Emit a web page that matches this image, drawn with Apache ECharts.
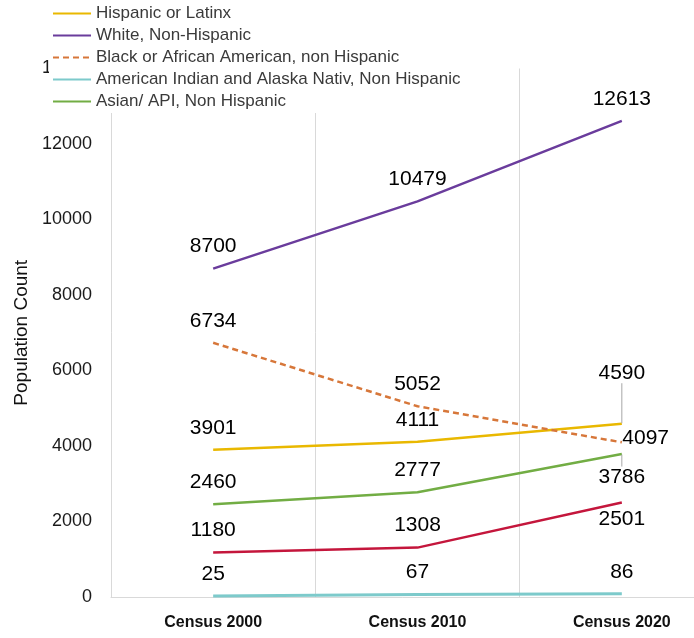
<!DOCTYPE html>
<html>
<head>
<meta charset="utf-8">
<script src="https://cdn.jsdelivr.net/npm/echarts@6/dist/echarts.min.js"></script>
<style>
  html, body { margin: 0; padding: 0; background: #fff; }
  #chart { width: 694px; height: 638px; }
</style>
</head>
<body>
<div id="chart"></div>
<script>
// Census categories
const censusYears = ['Census 2000', 'Census 2010', 'Census 2020'];

// Population counts per group
const hispanic   = [3901, 4111, 4590];
const white      = [8700, 10479, 12613];
const black      = [6734, 5052, 4097];
const amIndian   = [25, 67, 86];
const asian      = [2460, 2777, 3786];
const otherRace  = [1180, 1308, 2501];

const LABEL_FONT = 'Liberation Sans, Arial, sans-serif';

const baseLabel = {
  show: true,
  position: 'top',
  distance: 11,
  fontFamily: LABEL_FONT,
  fontSize: 21,
  color: '#000'
};

const guide = { show: true, lineStyle: { color: '#a6a6a6', width: 1 } };

function makeSeries(name, values, color, opts) {
  opts = opts || {};
  return Object.assign({
    name: name,
    type: 'line',
    data: values.map(function (v, i) {
      const item = { value: v };
      if (opts.lastLabel && i === values.length - 1) {
        item.label = opts.lastLabel;
        if (opts.lastGuide) item.labelLine = guide;
      }
      return item;
    }),
    // invisible point markers keep the value labels attached
    symbol: 'circle',
    symbolSize: 1,
    showSymbol: true,
    lineStyle: Object.assign({ color: color, width: 2.5 }, opts.lineStyle || {}),
    itemStyle: { color: 'rgba(0,0,0,0)', borderWidth: 0 },
    label: baseLabel
  }, opts.extra || {});
}

const series = [
  makeSeries('Hispanic or Latinx', hispanic, '#E9B800', {
    lastLabel: { position: 'top', distance: 11 },
    lastGuide: true,
    extra: {
      labelLayout: function (p) { return p.dataIndex === 2 ? { dy: -29 } : {}; }
    }
  }),
  makeSeries('White, Non-Hispanic', white, '#6A3C9C'),
  makeSeries('Black or African American, non Hispanic', black, '#D7773A', {
    lineStyle: { type: [6, 4] },
    lastLabel: { position: 'right', distance: 0, offset: [0, -4] }
  }),
  makeSeries('American Indian and Alaska Nativ, Non Hispanic', amIndian, '#7DCACB', {
    lineStyle: { width: 3 }
  }),
  makeSeries('Asian/ API, Non Hispanic', asian, '#72AD44', {
    lastLabel: { position: 'bottom', distance: 2 },
    lastGuide: true,
    extra: {
      labelLayout: function (p) { return p.dataIndex === 2 ? { dy: 10 } : {}; }
    }
  }),
  makeSeries('Other, Non Hispanic', otherRace, '#C4163C', {
    lastLabel: { position: 'bottom', distance: 6 }
  })
];

const chart = echarts.init(document.getElementById('chart'), null, { renderer: 'canvas' });
chart.setOption({
  animation: false,
  backgroundColor: '#fff',
  textStyle: { fontFamily: LABEL_FONT },
  grid: {
    left: 111, width: 613, top: 68.5, bottom: 41,
    containLabel: false,
    outerBoundsMode: 'none'
  },
  legend: {
    data: [
      'Hispanic or Latinx',
      'White, Non-Hispanic',
      'Black or African American, non Hispanic',
      'American Indian and Alaska Nativ, Non Hispanic',
      'Asian/ API, Non Hispanic'
    ],
    orient: 'vertical',
    left: 49,
    top: 2,
    padding: [3, 6, 3, 3],
    backgroundColor: '#fff',
    itemWidth: 38,
    itemHeight: 14,
    itemGap: 5,
    textStyle: { fontFamily: LABEL_FONT, fontSize: 17, color: '#3a3a3a' }
  },
  xAxis: {
    type: 'category',
    data: censusYears,
    boundaryGap: true,
    axisLine: { show: true, lineStyle: { color: '#d9d9d9', width: 1 } },
    axisTick: { show: false },
    splitLine: { show: true, lineStyle: { color: '#d9d9d9', width: 1 } },
    axisLabel: {
      margin: 18,
      fontFamily: LABEL_FONT,
      fontSize: 16,
      fontWeight: 'bold',
      color: '#111'
    }
  },
  yAxis: {
    type: 'value',
    min: 0,
    max: 14000,
    interval: 2000,
    name: 'Population Count',
    nameLocation: 'middle',
    nameGap: 74,
    nameTextStyle: { fontFamily: LABEL_FONT, fontSize: 19, color: '#111' },
    axisLine: { show: false },
    axisTick: { show: false },
    splitLine: { show: false },
    axisLabel: {
      margin: 19,
      fontFamily: LABEL_FONT,
      fontSize: 18,
      color: '#1a1a1a',
      formatter: function (v) { return String(v); }
    }
  },
  series: series
});
</script>
</body>
</html>
